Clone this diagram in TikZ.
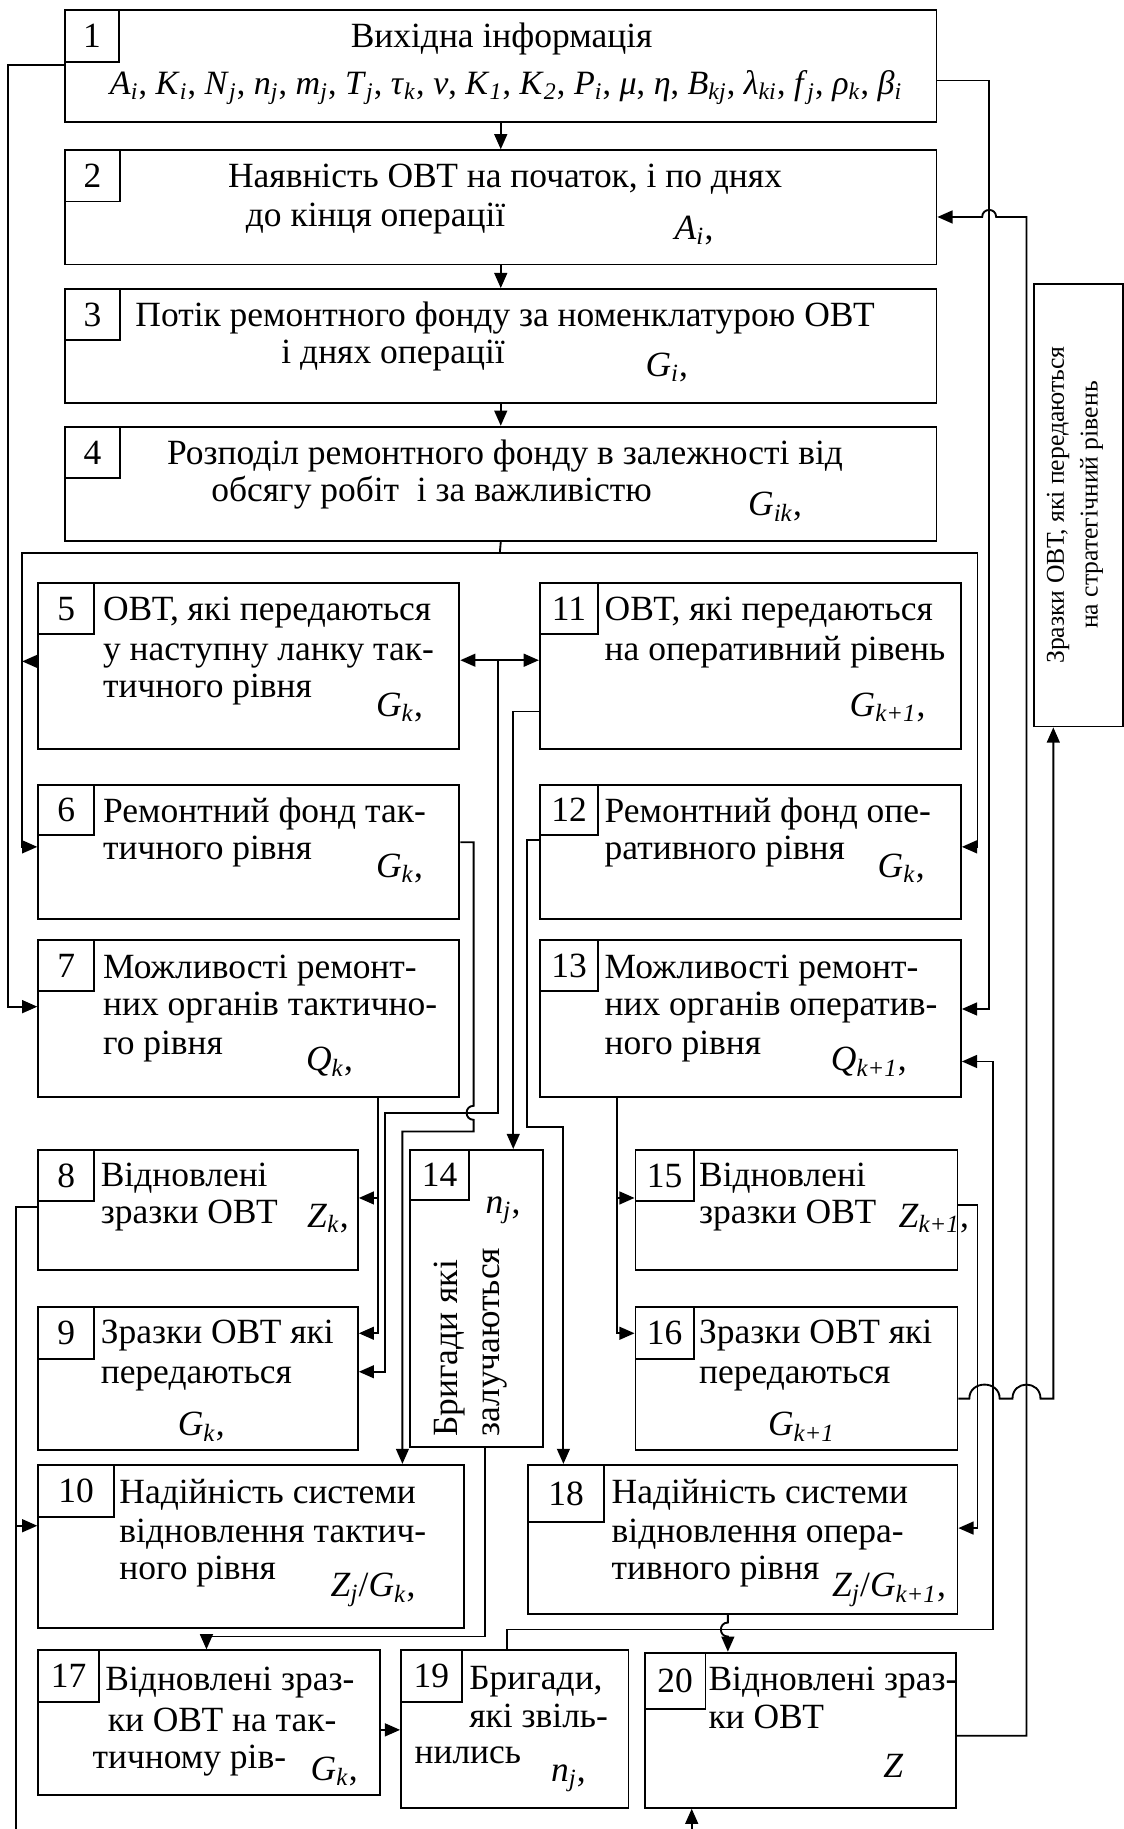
\documentclass[tikz,border=0pt]{standalone}
\usepackage{fontspec}
\setmainfont{Liberation Serif}
\usetikzlibrary{arrows.meta}
\newcommand\vr[2]{\textit{#1}\textsubscript{\textit{#2}}}
\newcommand\bx[5]{\node[box, minimum width={(#4-#2)*0.5pt}, minimum height={(#5-#3)*0.5pt}] (#1) at (#2,#3) {};}
\newcommand\nbx[6]{\bx{#1}{#2}{#3}{#4}{#5}\node[num] (#1t) at (#1.center) {#6};}
\begin{document}
\begin{tikzpicture}[x=0.5pt,y=-0.5pt,
  box/.style={draw, line width=0.8pt, inner sep=0, anchor=north west},
  conn/.style={line width=0.8pt},
  arr/.style={conn, -{Triangle[length=6.5pt,width=5.5pt]}},
  arrs/.style={conn, {Triangle[length=6.5pt,width=5.5pt]}-{Triangle[length=6.5pt,width=5.5pt]}},
  txt/.style={anchor=base west, inner sep=0, font=\fontsize{15.2}{16.5}\selectfont},
  ctxt/.style={txt, anchor=base},
  num/.style={inner sep=0, font=\fontsize{15.2}{16.5}\selectfont},
  rtxt/.style={txt, rotate=90},
  stxt/.style={anchor=base, inner sep=0, rotate=90, font=\fontsize{11}{13}\selectfont},
]
\useasboundingbox (0,0) rectangle (963,1568);
% boxes
\bx{b1}{55}{8}{802}{104}
\bx{b2}{55}{128}{802}{226}
\bx{b3}{55}{247}{802}{345}
\bx{b4}{55}{365}{802}{463}
\bx{b5}{32}{499}{393}{641}
\bx{b11}{462}{499}{823}{641}
\bx{b6}{32}{672}{393}{787}
\bx{b12}{462}{672}{823}{787}
\bx{b7}{32}{805}{393}{940}
\bx{b13}{462}{805}{823}{940}
\bx{b8}{32}{985}{306}{1088}
\bx{b14}{351}{985}{465}{1240}
\bx{b15}{544}{985}{820}{1088}
\bx{b9}{32}{1120}{306}{1242}
\bx{b16}{544}{1120}{820}{1242}
\bx{b10}{32}{1255}{397}{1395}
\bx{b18}{452}{1255}{820}{1383}
\bx{b17}{32}{1414}{325}{1538}
\bx{b19}{343}{1414}{538}{1549}
\bx{b20}{552}{1416}{819}{1549}
\bx{b21}{886}{243}{962}{622}
% number boxes
\nbx{n1}{55}{8}{101}{52}{1}
\nbx{n2}{55}{128}{102}{172}{2}
\nbx{n3}{55}{247}{102}{291}{3}
\nbx{n4}{55}{365}{102}{409}{4}
\nbx{n5}{32}{499}{80}{543}{5}
\nbx{n11}{462}{499}{512}{543}{11}
\nbx{n6}{32}{672}{80}{715}{6}
\nbx{n12}{462}{672}{512}{715}{12}
\nbx{n7}{32}{805}{80}{849}{7}
\nbx{n13}{462}{805}{512}{849}{13}
\nbx{n8}{32}{985}{80}{1029}{8}
\nbx{n14}{351}{985}{401}{1028}{14}
\nbx{n15}{544}{985}{594}{1029}{15}
\nbx{n9}{32}{1120}{80}{1164}{9}
\nbx{n16}{544}{1120}{594}{1164}{16}
\nbx{n10}{32}{1255}{97}{1300}{10}
\nbx{n18}{452}{1255}{517}{1304}{18}
\nbx{n17}{32}{1414}{84}{1458}{17}
\nbx{n19}{343}{1414}{395}{1458}{19}
\nbx{n20}{552}{1416}{604}{1464}{20}
% texts
\node[ctxt] (t1a) at (430,41) {Вихідна інформація};
\node[ctxt, font=\fontsize{14.6}{16}\selectfont] (t1b) at (434,81) {\vr{A}{i}, \vr{K}{i}, \vr{N}{j}, \vr{n}{j}, \vr{m}{j}, \vr{T}{j}, \vr{τ}{k}, \textit{ν}, \vr{K}{1}, \vr{K}{2}, \vr{P}{i}, \textit{μ}, \textit{η}, \vr{B}{kj}, \vr{λ}{ki}, \vr{f}{j}, \vr{ρ}{k}, \vr{β}{i}};
\node[ctxt] (t2a) at (433,161) {Наявність ОВТ на початок, і по днях};
\node[ctxt] (t2b) at (322,194) {до кінця операції};
\node[txt] (t2c) at (578,205) {\vr{A}{i},};
\node[ctxt] (t3a) at (433,280) {Потік ремонтного фонду за номенклатурою ОВТ};
\node[ctxt] (t3b) at (337,312) {і днях операції};
\node[txt] (t3c) at (553,323) {\vr{G}{i},};
\node[ctxt] (t4a) at (433,398) {Розподіл ремонтного фонду в залежності від};
\node[ctxt] (t4b) at (370,430) {обсягу робіт\ \ і за важливістю};
\node[txt] (t4c) at (641,442) {\vr{G}{ik},};
\node[txt] (t5a) at (88,532) {ОВТ, які передаються};
\node[txt] (t5b) at (88,566) {у наступну ланку так-};
\node[txt] (t5c) at (88,598) {тичного рівня};
\node[txt] (t5d) at (322,614) {\vr{G}{k},};
\node[txt] (t11a) at (518,532) {ОВТ, які передаються};
\node[txt] (t11b) at (518,566) {на оперативний рівень};
\node[txt] (t11c) at (728,614) {\vr{G}{k+1},};
\node[txt] (t6a) at (88,705) {Ремонтний фонд так-};
\node[txt] (t6b) at (88,737) {тичного рівня};
\node[txt] (t6c) at (322,752) {\vr{G}{k},};
\node[txt] (t12a) at (518,705) {Ремонтний фонд опе-};
\node[txt] (t12b) at (518,737) {ративного рівня};
\node[txt] (t12c) at (752,752) {\vr{G}{k},};
\node[txt] (t7a) at (88,839) {Можливості ремонт-};
\node[txt] (t7b) at (88,871) {них органів тактично-};
\node[txt] (t7c) at (88,904) {го рівня};
\node[txt] (t7d) at (262,918) {\vr{Q}{k},};
\node[txt] (t13a) at (518,839) {Можливості ремонт-};
\node[txt] (t13b) at (518,871) {них органів оператив-};
\node[txt] (t13c) at (518,904) {ного рівня};
\node[txt] (t13d) at (712,918) {\vr{Q}{k+1},};
\node[txt] (t8a) at (86,1017) {Відновлені};
\node[txt] (t8b) at (86,1049) {зразки ОВТ};
\node[txt] (t8c) at (263,1052) {\vr{Z}{k},};
\node[txt] (t15a) at (599,1017) {Відновлені};
\node[txt] (t15b) at (599,1049) {зразки ОВТ};
\node[txt] (t15c) at (770,1052) {\vr{Z}{k+1},};
\node[txt] (t9a) at (86,1152) {Зразки ОВТ які};
\node[txt] (t9b) at (86,1186) {передаються};
\node[txt] (t9c) at (152,1231) {\vr{G}{k},};
\node[txt] (t16a) at (599,1152) {Зразки ОВТ які};
\node[txt] (t16b) at (599,1186) {передаються};
\node[txt] (t16c) at (658,1231) {\vr{G}{k+1}};
\node[txt] (t10a) at (102,1289) {Надійність системи};
\node[txt] (t10b) at (102,1322) {відновлення тактич-};
\node[txt] (t10c) at (102,1354) {ного рівня};
\node[txt] (t10d) at (283,1369) {\vr{Z}{j}/\vr{G}{k},};
\node[txt] (t18a) at (524,1289) {Надійність системи};
\node[txt] (t18b) at (524,1322) {відновлення опера-};
\node[txt] (t18c) at (524,1354) {тивного рівня};
\node[txt] (t18d) at (713,1369) {\vr{Z}{j}/\vr{G}{k+1},};
\node[txt] (t17a) at (90,1449) {Відновлені зраз-};
\node[txt] (t17b) at (92,1484) {ки ОВТ на так-};
\node[txt] (t17c) at (79,1516) {тичному рів-};
\node[txt] (t17d) at (266,1526) {\vr{G}{k},};
\node[txt] (t19a) at (402,1448) {Бригади,};
\node[txt] (t19b) at (402,1481) {які звіль-};
\node[txt] (t19c) at (355,1512) {нились};
\node[txt] (t19d) at (472,1527) {\vr{n}{j},};
\node[txt] (t20a) at (607,1449) {Відновлені зраз-};
\node[txt] (t20b) at (607,1482) {ки ОВТ};
\node[txt] (t20c) at (757,1524) {\textit{Z}};
\node[txt] (t14a) at (416,1040) {\vr{n}{j},};
\node[rtxt] (t14b) at (392,1232) {Бригади які};
\node[rtxt] (t14c) at (428,1232) {залучаються};
\node[stxt] (t21a) at (912,433) {Зразки ОВТ, які передаються};
\node[stxt] (t21b) at (941,433) {на стратегічний рівень};
% junctions
\coordinate (j4) at (428.5,474);
\coordinate (j511) at (427,566);
\coordinate (j7) at (324,1027);
\coordinate (j13) at (529,1027);
\coordinate (jL) at (14,1308);
\coordinate (bot1) at (14,1568);
\coordinate (bot2) at (593,1568);
% connectors
\draw[arr] (b1.south) -- (b2.north);
\draw[arr] (b2.south) -- (b3.north);
\draw[arr] (b3.south) -- (b4.north);
\draw[conn] (b4.south) -- (j4);
\draw[arr] (j4) -| (19,726) -- (b6.west |- 0,726);
\draw[arr] (j4) -| (838,726) -- (b12.east |- 0,726);
\draw[arr] (b5.west |- 0,567) -- (19,567);
\draw[arr] (b1.west |- 0,56) -- (7,56) -- (7,863) -- (b7.west |- 0,863);
\draw[arr] (b1.east |- 0,69) -- (848,69) -- (848,865) -- (b13.east |- 0,865);
\draw[arrs] (b5.east |- 0,566) -- (b11.west |- 0,566);
\draw[arr] (j511) -- (427,954) -- (330,954) -- (330,1176) -- (b9.east |- 0,1176);
\draw[arr] (b6.east |- 0,722) -- (406,722) -- (406,948) .. controls (398,948) and (398,960) .. (406,960) -- (406,970) -- (345,970) -- (b10.north -| 345,0);
\draw[arr] (b7.south -| 324,0) -- (324,1143) -- (b9.east |- 0,1143);
\draw[arr] (j7) -- (b8.east |- 0,1027);
\draw[arr] (b11.west |- 0,610) -- (440,610) -- (b14.north -| 440,0);
\draw[arr] (b12.west |- 0,720) -- (452,720) -- (452,966) -- (483,966) -- (b18.north -| 483,0);
\draw[arr] (b13.south -| 529,0) -- (529,1143) -- (b16.west |- 0,1143);
\draw[arr] (j13) -- (b15.west |- 0,1027);
\draw[arr] (b14.south -| 416,0) -- (416,1403) -- (177,1403) -- (b17.north -| 177,0);
\draw[arr] (b15.east |- 0,1033) -- (838,1033) -- (838,1310) -- (b18.east |- 0,1310);
\draw[arr] (b16.east |- 0,1199) -- (831,1199) .. controls (831,1183) and (857,1183) .. (857,1199) -- (868,1199) .. controls (868,1183) and (892,1183) .. (892,1199) -- (903,1199) -- (b21.south -| 903,0);
\draw[arr] (b17.east |- 0,1483) -- (b19.west |- 0,1483);
\draw[arr] (b19.north -| 435,0) -- (435,1397) -- (851,1397) -- (851,910) -- (b13.east |- 0,910);
\draw[arr] (b18.south -| 624,0) -- (624,1391) .. controls (616,1391) and (616,1403) .. (624,1403) -- (b20.north -| 624,0);
\draw[arr] (b20.east |- 0,1488) -- (880,1488) -- (880,186) -- (854,186) .. controls (854,178) and (842,178) .. (842,186) -- (b2.east |- 0,186);
\draw[conn] (b8.west |- 0,1035) -- (14,1035) -- (bot1);
\draw[arr] (jL) -- (b10.west |- 0,1308);
\draw[arr] (bot2) -- (b20.south -| 593,0);
\end{tikzpicture}
\end{document}
